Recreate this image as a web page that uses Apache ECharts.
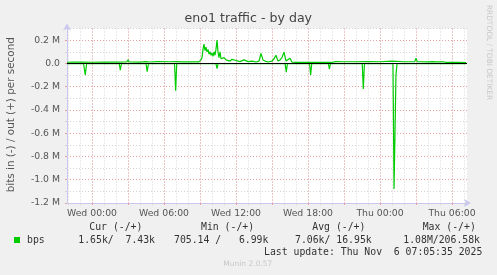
<!DOCTYPE html>
<html><head><meta charset="utf-8">
<script src="https://cdn.jsdelivr.net/npm/echarts@6/dist/echarts.min.js"></script>
<style>html,body{margin:0;padding:0;background:#f0f0f0}#c{width:497px;height:275px}</style>
</head><body><div id="c"></div>
<script>
const chartTitle = 'eno1 traffic - by day';
const yAxisName = 'bits in (-) / out (+) per second';
const xTickHours = [0, 6, 12, 18, 24, 30];
const xTickLabels = ['Wed 00:00', 'Wed 06:00', 'Wed 12:00', 'Wed 18:00', 'Thu 00:00', 'Thu 06:00'];
const yTickValues = [-1200000, -1000000, -800000, -600000, -400000, -200000, 0, 200000];
const yTickLabels = ['-1.2 M', '-1.0 M', '-0.8 M', '-0.6 M', '-0.4 M', '-0.2 M', '0.0', '0.2 M'];

// hours relative to Wed 00:00, values in kbit/s
const outHours = [-2.08,-1.5,-0.8,0,1,2,2.9,3.0,3.1,4.0,4.5,4.6,4.75,5.5,6.5,7.0,7.5,8.0,8.5,8.9,9.0,9.08,9.17,9.25,9.33,9.42,9.5,9.58,9.67,9.75,9.83,9.92,10.0,10.08,10.17,10.25,10.33,10.42,10.5,10.58,10.67,10.75,10.83,11.0,11.17,11.33,11.5,11.67,11.83,12.0,12.33,12.67,13.0,13.33,13.67,13.92,14.08,14.25,14.42,14.67,15.0,15.17,15.33,15.5,15.67,15.83,16.0,16.17,16.33,16.5,16.67,17.0,18.0,18.1,18.3,19.0,20.0,20.3,21,22,23,24,25,26,26.9,27.0,27.1,28.0,28.4,28.5,28.6,29.3,29.5,30.5,31.17];
const outKbps  = [10,12,11,10,12,11,12,30,12,11,15,20,12,15,14,15,13,14,13,13,20,30,50,120,165,110,140,100,120,80,100,70,90,60,100,70,120,200,100,50,100,40,30,50,30,40,20,35,20,25,15,30,15,20,12,20,85,30,20,12,20,40,70,20,30,50,97,20,30,45,10,8,8,15,8,8,8,15,14,14,15,14,20,14,15,45,15,13,15,25,13,14,8,8,7.43];
const inHours = [-2.08,-0.7,-0.56,-0.45,2.27,2.36,2.45,4.5,4.6,4.7,6.88,6.97,7.06,7.25,7.33,7.42,10.33,10.42,10.5,12.3,12.4,12.5,16.1,16.19,16.28,18.13,18.22,18.31,19.7,19.78,19.87,22.52,22.61,22.7,24.58,24.67,24.75,25.08,25.17,25.33,25.42,26.7,26.8,26.9,31.17];
const inKbps  = [3,3,100,3,3,57,3,3,70,3,3,235,5,3,20,3,3,45,3,3,10,3,3,75,3,3,100,3,3,50,3,3,220,3,3,10,3,3,1080,100,3,3,10,3,1.65];

const legendHeader = ['Cur (-/+)', 'Min (-/+)', 'Avg (-/+)', 'Max (-/+)'];
const legendValues = ['1.65k/  7.43k', '705.14 /   6.99k', '7.06k/ 16.95k', '1.08M/206.58k'];
const legendName = 'bps';
const lastUpdate = 'Last update: Thu Nov  6 07:05:35 2025';
const credit = 'Munin 2.0.57';
const sideText = 'RRDTOOL / TOBI OETIKER';

const hourGrid = []; for (let h = -2; h <= 31; h++) hourGrid.push(h);
const majorGrid = []; for (let h = 0; h <= 30; h += 3) majorGrid.push(h);
const yMinor = []; for (let i = -12; i <= 3; i++) yMinor.push(i * 100000);

const outData = outHours.map((h, i) => [h, outKbps[i] * 1000]);
const inData = inHours.map((h, i) => [h, -inKbps[i] * 1000]);

const XMIN = -2.0833, XMAX = 31.25;
const axisCol = '#c8c8f0';
const minorCol = '#d4d4d4';
const majorCol = '#e8a0a0';
const sans = 'DejaVu Sans';
const mono = 'DejaVu Sans Mono';

const chart = echarts.init(document.getElementById('c'), null, {renderer: 'canvas'});
chart.setOption({
  animation: false,
  backgroundColor: '#f0f0f0',
  grid: {left: 67, right: 30, top: 28.5, bottom: 72, show: true, backgroundColor: '#ffffff', borderWidth: 0},
  xAxis: [
    {type: 'value', position: 'bottom', min: XMIN, max: XMAX,
     axisLine: {show: true, onZero: false, lineStyle: {color: axisCol}, symbol: ['none', 'arrow'], symbolSize: [6, 7], symbolOffset: [0, 4]},
     axisTick: {show: true, length: 2, lineStyle: {color: minorCol}, customValues: hourGrid},
     axisLabel: {show: false},
     splitLine: {show: true, lineStyle: {color: minorCol, type: [1, 2], width: 1}}},
    {type: 'value', position: 'bottom', min: XMIN, max: XMAX, axisLine: {show: false, onZero: false},
     axisTick: {show: true, length: 2, lineStyle: {color: majorCol}, customValues: majorGrid},
     axisLabel: {show: false},
     splitLine: {show: true, lineStyle: {color: majorCol, type: [1, 2], width: 1}}},
    {type: 'value', position: 'bottom', min: XMIN, max: XMAX, axisLine: {show: false, onZero: false}, axisTick: {show: false, customValues: xTickHours},
     splitLine: {show: false},
     axisLabel: {show: true, customValues: xTickHours, margin: 6, color: '#555', fontFamily: sans, fontSize: 9.3,
       formatter: v => { const i = xTickHours.indexOf(Math.round(v)); return i >= 0 ? xTickLabels[i] : ''; }}}
  ],
  yAxis: [
    {type: 'value', position: 'left', min: -1200000, max: 300000,
     axisLine: {show: true, onZero: false, lineStyle: {color: axisCol}, symbol: ['none', 'arrow'], symbolSize: [6, 7], symbolOffset: [0, 5]},
     axisTick: {show: true, length: 2, lineStyle: {color: minorCol}, customValues: yMinor},
     axisLabel: {show: false},
     splitLine: {show: true, lineStyle: {color: minorCol, type: [1, 2], width: 1}}},
    {type: 'value', min: -1200000, max: 300000, position: 'left', axisLine: {show: false, onZero: false},
     axisTick: {show: true, length: 2, lineStyle: {color: majorCol}, customValues: yTickValues},
     splitLine: {show: true, lineStyle: {color: majorCol, type: [1, 2], width: 1}},
     axisLabel: {show: true, customValues: yTickValues, margin: 7, color: '#555', fontFamily: sans, fontSize: 9.3,
       formatter: v => { const i = yTickValues.indexOf(Math.round(v)); return i >= 0 ? yTickLabels[i] : ''; }}}
  ],
  series: [
    {type: 'line', name: 'zero', xAxisIndex: 0, yAxisIndex: 0, data: [], z: 1,
     markLine: {silent: true, symbol: 'none', label: {show: false}, lineStyle: {color: '#000', width: 1.2, type: 'solid'}, data: [{yAxis: 0}]}},
    {type: 'line', name: 'bps in', xAxisIndex: 0, yAxisIndex: 0, data: inData, showSymbol: false, z: 3,
     lineStyle: {color: '#00cc00', width: 1.2}, itemStyle: {color: '#00cc00'}},
    {type: 'line', name: 'bps out', xAxisIndex: 0, yAxisIndex: 0, data: outData, showSymbol: false, z: 3,
     lineStyle: {color: '#00cc00', width: 1.2}, itemStyle: {color: '#00cc00'}}
  ],
  graphic: [
    {type: 'text', x: 248.3, y: 19, style: {text: chartTitle, fontFamily: sans, fontSize: 12.6, fill: '#444', align: 'center', verticalAlign: 'middle'}},
    {type: 'text', x: 11, y: 114.7, rotation: Math.PI / 2, style: {text: yAxisName, fontFamily: sans, fontSize: 10.4, fill: '#555', align: 'center', verticalAlign: 'middle'}},
    {type: 'text', x: 488.5, y: 52.5, rotation: -Math.PI / 2, style: {text: sideText, fontFamily: sans, fontSize: 7.4, fill: '#c8c8c8', align: 'center', verticalAlign: 'middle'}},
    {type: 'rect', shape: {x: 14, y: 237, width: 6, height: 6}, style: {fill: '#00cc00'}},
    {type: 'text', x: 27, y: 240, style: {text: legendName, fontFamily: mono, fontSize: 9.8, fill: '#333', align: 'left', verticalAlign: 'middle'}},
    {type: 'text', x: 89.3, y: 227.5, style: {text: legendHeader[0], fontFamily: mono, fontSize: 9.8, fill: '#333', align: 'left', verticalAlign: 'middle'}},
    {type: 'text', x: 201, y: 227.5, style: {text: legendHeader[1], fontFamily: mono, fontSize: 9.8, fill: '#333', align: 'left', verticalAlign: 'middle'}},
    {type: 'text', x: 312.3, y: 227.5, style: {text: legendHeader[2], fontFamily: mono, fontSize: 9.8, fill: '#333', align: 'left', verticalAlign: 'middle'}},
    {type: 'text', x: 422.7, y: 227.5, style: {text: legendHeader[3], fontFamily: mono, fontSize: 9.8, fill: '#333', align: 'left', verticalAlign: 'middle'}},
    {type: 'text', x: 78.3, y: 240, style: {text: legendValues[0], fontFamily: mono, fontSize: 9.8, fill: '#333', align: 'left', verticalAlign: 'middle'}},
    {type: 'text', x: 174, y: 240, style: {text: legendValues[1], fontFamily: mono, fontSize: 9.8, fill: '#333', align: 'left', verticalAlign: 'middle'}},
    {type: 'text', x: 295, y: 240, style: {text: legendValues[2], fontFamily: mono, fontSize: 9.8, fill: '#333', align: 'left', verticalAlign: 'middle'}},
    {type: 'text', x: 403.3, y: 240, style: {text: legendValues[3], fontFamily: mono, fontSize: 9.8, fill: '#333', align: 'left', verticalAlign: 'middle'}},
    {type: 'text', x: 482.3, y: 252.2, style: {text: lastUpdate, fontFamily: mono, fontSize: 9.8, fill: '#333', align: 'right', verticalAlign: 'middle'}},
    {type: 'text', x: 247.8, y: 264, style: {text: credit, fontFamily: sans, fontSize: 7.5, fill: '#c8c8c8', align: 'center', verticalAlign: 'middle'}}
  ]
});
</script></body></html>
